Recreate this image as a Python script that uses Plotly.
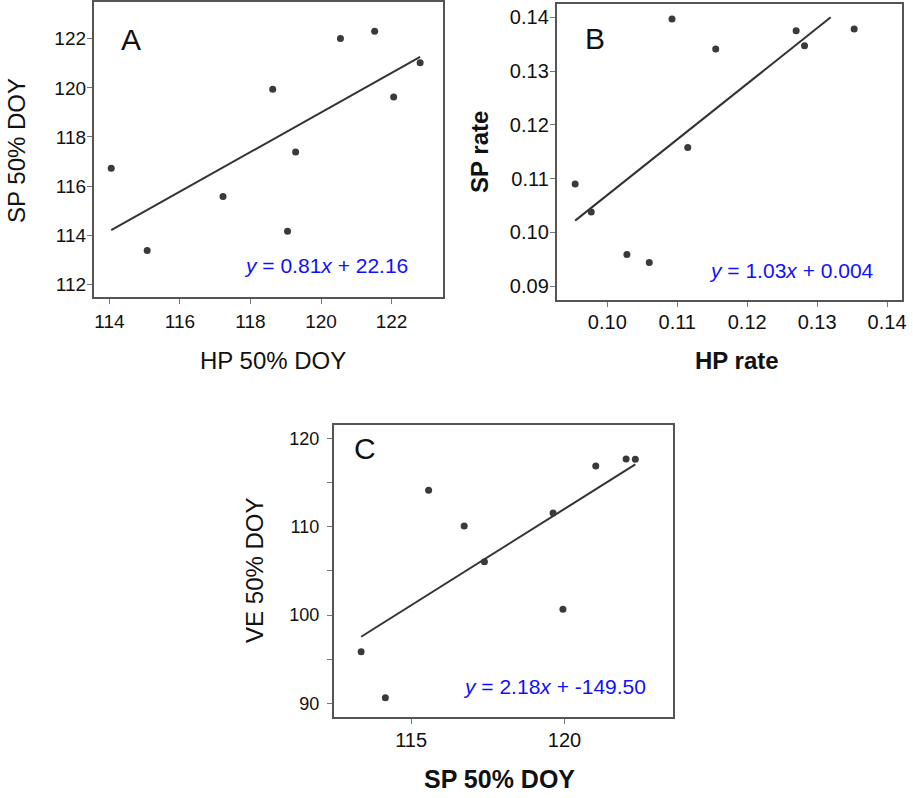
import numpy as np
import plotly.graph_objects as go

W, H = 913, 798

# ---------------- data ----------------
hp_doy = [114.05, 115.07, 117.22, 118.63, 119.05, 119.28, 120.55, 121.52, 122.06, 122.81]
sp_doy = [116.73, 113.37, 115.57, 119.95, 114.16, 117.39, 122.01, 122.31, 119.63, 121.02]
ve_doy = [110.08, 95.87, 114.12, 100.66, 90.67, 106.05, 117.66, 117.62, 111.55, 116.87]

hp_rate = [0.0954, 0.0977, 0.1028, 0.1060, 0.10925, 0.1115, 0.1155, 0.1270, 0.1282, 0.1353]
sp_rate = [0.1090, 0.1038, 0.0959, 0.0944, 0.1397, 0.1158, 0.1341, 0.1375, 0.1347, 0.1378]
rate_line_cap = 0.14

eq_text = {
    "A": "<i>y</i> = 0.81<i>x</i> + 22.16",
    "B": "<i>y</i> = 1.03<i>x</i> + 0.004",
    "C": "<i>y</i> = 2.18<i>x</i> + -149.50",
}

a_xticks = [114, 116, 118, 120, 122]
a_yticks = [112, 114, 116, 118, 120, 122]
b_xticks = [0.10, 0.11, 0.12, 0.13, 0.14]
b_yticks = [0.09, 0.10, 0.11, 0.12, 0.13, 0.14]
c_xticks = [115, 120]
c_yticks = [90, 95, 100, 105, 110, 115, 120]
c_yticktext = ["90", "", "100", "", "110", "", "120"]

FONT = "Arial, Liberation Sans, sans-serif"
PT_COL = "#3a3a3a"
LN_COL = "#333333"
BOX_COL = "#555555"


def px_x(p):
    return p / W


def px_y(p):
    return 1 - p / H


def fit(x, y):
    m, b = np.polyfit(np.array(x), np.array(y), 1)
    return m, b


fig = go.Figure()

# Panel A
m, b = fit(hp_doy, sp_doy)
xa = np.array([min(hp_doy), max(hp_doy)])
fig.add_trace(go.Scatter(x=xa, y=m * xa + b, mode="lines", line=dict(color=LN_COL, width=2),
                         xaxis="x", yaxis="y", showlegend=False, hoverinfo="skip"))
fig.add_trace(go.Scatter(x=hp_doy, y=sp_doy, mode="markers", marker=dict(color=PT_COL, size=7),
                         xaxis="x", yaxis="y", showlegend=False))

# Panel B
m, b = fit(hp_rate, sp_rate)
x_end = min(max(hp_rate), (rate_line_cap - b) / m)
xb = np.array([min(hp_rate), x_end])
fig.add_trace(go.Scatter(x=xb, y=m * xb + b, mode="lines", line=dict(color=LN_COL, width=2),
                         xaxis="x2", yaxis="y2", showlegend=False, hoverinfo="skip"))
fig.add_trace(go.Scatter(x=hp_rate, y=sp_rate, mode="markers", marker=dict(color=PT_COL, size=7),
                         xaxis="x2", yaxis="y2", showlegend=False))

# Panel C
m, b = fit(sp_doy, ve_doy)
xc = np.array([min(sp_doy), max(sp_doy)])
fig.add_trace(go.Scatter(x=xc, y=m * xc + b, mode="lines", line=dict(color=LN_COL, width=2),
                         xaxis="x3", yaxis="y3", showlegend=False, hoverinfo="skip"))
fig.add_trace(go.Scatter(x=sp_doy, y=ve_doy, mode="markers", marker=dict(color=PT_COL, size=7),
                         xaxis="x3", yaxis="y3", showlegend=False))


def ax(domain, rng, tickvals, ticktext=None, size=18, standoff=4, anchor=None):
    d = dict(domain=domain, range=rng, tickvals=tickvals, showgrid=False, zeroline=False,
             showline=True, mirror=True, linecolor=BOX_COL, linewidth=1.5,
             ticks="outside", ticklen=5, tickcolor="#777777", tickwidth=1,
             tickfont=dict(family=FONT, size=size, color="#111111"),
             ticklabelstandoff=standoff, anchor=anchor)
    if ticktext is not None:
        d["ticktext"] = ticktext
    return d


fig.update_layout(
    width=W, height=H,
    margin=dict(l=0, r=0, t=0, b=0),
    paper_bgcolor="white", plot_bgcolor="white",
    xaxis=ax([px_x(94), px_x(445)], [113.55, 123.46], a_xticks, size=19, standoff=1, anchor="y"),
    yaxis=ax([px_y(297), px_y(2)], [111.48, 123.5], a_yticks, size=19, standoff=-3, anchor="x"),
    xaxis2=ax([px_x(559), px_x(906)], [0.09274, 0.14214], b_xticks,
              ticktext=["%.2f" % v for v in b_xticks], size=20, standoff=-2, anchor="y2"),
    yaxis2=ax([px_y(300), px_y(4)], [0.08745, 0.14247], b_yticks,
              ticktext=["%.2f" % v for v in b_yticks], size=20, standoff=-3, anchor="x2"),
    xaxis3=ax([px_x(335), px_x(676)], [112.47, 123.54], c_xticks, size=20, standoff=-1, anchor="y3"),
    yaxis3=ax([px_y(717), px_y(425)], [88.48, 121.5], c_yticks, ticktext=c_yticktext,
              size=18, standoff=4, anchor="x3"),
)

annos = [
    # panel letters
    dict(text="A", x=132, y=39, size=30),
    dict(text="B", x=598, y=38, size=30),
    dict(text="C", x=367, y=448, size=30),
    # axis titles
    dict(text="SP 50% DOY", x=16, y=150, size=24, angle=-90),
    dict(text="HP 50% DOY", x=274, y=361, size=24),
    dict(text="<b>SP rate</b>", x=481, y=152, size=24, angle=-90),
    dict(text="<b>HP rate</b>", x=740, y=361, size=24),
    dict(text="VE 50% DOY", x=255, y=570, size=24, angle=-90),
    dict(text="<b>SP 50% DOY</b>", x=502, y=779, size=25),
    # equations
    dict(text=eq_text["A"], x=327, y=266, size=21, color="#1010ff"),
    dict(text=eq_text["B"], x=795, y=270, size=21, color="#1010ff"),
    dict(text=eq_text["C"], x=557, y=686, size=21, color="#1010ff"),
]
for a in annos:
    fig.add_annotation(text=a["text"], x=px_x(a["x"]), y=px_y(a["y"]), xref="paper", yref="paper",
                       xanchor="center", yanchor="middle", showarrow=False,
                       textangle=a.get("angle", 0),
                       font=dict(family=FONT, size=a["size"], color=a.get("color", "#111111")))

fig.write_html("out.html")
